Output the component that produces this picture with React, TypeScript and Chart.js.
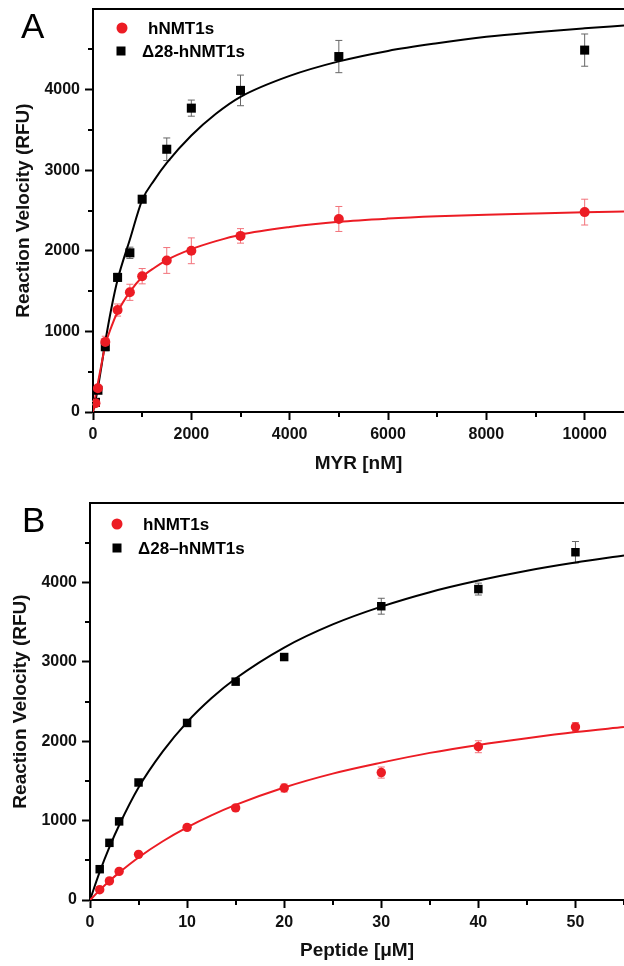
import React, { useEffect, useRef } from 'react';
import { Chart, registerables } from 'chart.js';

Chart.register(...registerables);

// ---------- Data ----------
const seriesLabelsA = ['hNMT1s', 'Δ28-hNMT1s'];
const seriesLabelsB = ['hNMT1s', 'Δ28–hNMT1s'];

// Panel A : MYR [nM]
const myrConc = [50, 100, 250, 500, 750, 1000, 1500, 2000, 3000, 5000, 10000];
const myrRed = [110, 295, 870, 1265, 1485, 1685, 1880, 2000, 2185, 2395, 2480];
const myrRedErr = [20, 40, 70, 75, 100, 95, 160, 160, 90, 155, 160];
const myrBlack = [120, 270, 810, 1670, 1975, 2640, 3260, 3770, 3990, 4410, 4490];
const myrBlackErr = [20, 30, 50, 50, 70, 40, 140, 100, 190, 200, 200];
const myrFitX = [0, 50, 100, 175, 250, 375, 500, 750, 1000, 1250, 1500, 2000, 2500, 3000, 4000, 5000, 6000, 7000, 8000, 9000, 10000, 10800];
const myrFitRed = [0, 200, 360, 600, 830, 1060, 1240, 1490, 1675, 1790, 1885, 2020, 2120, 2200, 2295, 2360, 2400, 2428, 2448, 2464, 2478, 2488];
const myrFitBlack = [0, 140, 300, 580, 870, 1290, 1640, 2140, 2630, 2880, 3090, 3430, 3700, 3910, 4170, 4350, 4480, 4575, 4655, 4712, 4760, 4795];
const myrTicks = [0, 1000, 2000, 3000, 4000, 5000, 6000, 7000, 8000, 9000, 10000];
const myrTickLabels = [0, 2000, 4000, 6000, 8000, 10000];

// Panel B : Peptide [µM]
const pepConc = [1, 2, 3, 5, 10, 15, 20, 30, 40, 50];
const pepRed = [130, 240, 360, 575, 915, 1160, 1410, 1605, 1930, 2180];
const pepRedErr = [0, 0, 0, 0, 30, 30, 50, 70, 75, 55];
const pepBlack = [388, 720, 990, 1480, 2230, 2750, 3060, 3700, 3916, 4380];
const pepBlackErr = [0, 0, 0, 0, 40, 30, 30, 100, 75, 135];
const pepFitX = [0, 1, 2, 3, 5, 7.5, 10, 12.5, 15, 20, 25, 30, 35, 40, 45, 50, 55];
const pepFitRed = [0, 124, 239, 345, 536, 740, 915, 1066, 1198, 1417, 1592, 1730, 1853, 1953, 2038, 2115, 2178];
const pepFitBlack = [0, 354, 666, 942, 1417, 1871, 2240, 2540, 2790, 3180, 3471, 3695, 3877, 4023, 4147, 4250, 4338];
const pepTicks = [0, 5, 10, 15, 20, 25, 30, 35, 40, 45, 50, 55];
const pepTickLabels = [0, 10, 20, 30, 40, 50];

const velocityTicks = [0, 500, 1000, 1500, 2000, 2500, 3000, 3500, 4000, 4500];
const velocityTickLabels = [0, 1000, 2000, 3000, 4000];

// ---------- Styles ----------
const RED = '#ec1c24';
const RED_ERR = '#f2727a';
const BLACK = '#000000';
const BLACK_ERR = '#666666';
const FONT = 'Liberation Sans, Arial, sans-serif';

const toXY = (xs: number[], ys: number[]) => xs.map((x, i) => ({ x, y: ys[i] }));

const panelPlugin = {
  id: 'panel',
  beforeDatasetsDraw(chart: any) {
    const { ctx } = chart;
    const ys = chart.scales.y;
    chart.data.datasets.forEach((ds: any, di: number) => {
      if (!ds.errors) return;
      const meta = chart.getDatasetMeta(di);
      ctx.save();
      ctx.strokeStyle = ds.errorColor;
      ctx.lineWidth = 1;
      meta.data.forEach((el: any, i: number) => {
        const e = ds.errors[i];
        if (!e) return;
        const v = ds.data[i].y;
        const y1 = ys.getPixelForValue(v + e);
        const y2 = ys.getPixelForValue(v - e);
        const x = el.x;
        ctx.beginPath();
        ctx.moveTo(x, y1); ctx.lineTo(x, y2);
        ctx.moveTo(x - 3.5, y1); ctx.lineTo(x + 3.5, y1);
        ctx.moveTo(x - 3.5, y2); ctx.lineTo(x + 3.5, y2);
        ctx.stroke();
      });
      ctx.restore();
    });
  },
  afterDraw(chart: any, _args: any, opts: any) {
    const { ctx, chartArea } = chart;
    const xs = chart.scales.x;
    const ys = chart.scales.y;
    ctx.save();
    // top frame
    ctx.strokeStyle = '#000';
    ctx.lineWidth = 2;
    ctx.beginPath();
    ctx.moveTo(chartArea.left - 1, chartArea.top);
    ctx.lineTo(chartArea.right, chartArea.top);
    ctx.stroke();
    // minor ticks
    ctx.beginPath();
    xs.ticks.forEach((t: any) => {
      if (opts.xMajor.includes(t.value)) return;
      const px = Math.round(xs.getPixelForValue(t.value));
      ctx.moveTo(px, chartArea.bottom);
      ctx.lineTo(px, chartArea.bottom + 5);
    });
    ys.ticks.forEach((t: any) => {
      if (opts.yMajor.includes(t.value)) return;
      const py = Math.round(ys.getPixelForValue(t.value));
      ctx.moveTo(chartArea.left, py);
      ctx.lineTo(chartArea.left - 5, py);
    });
    ctx.stroke();
    // panel letter
    ctx.fillStyle = '#000';
    ctx.font = `normal 35px ${FONT}`;
    ctx.textBaseline = 'alphabetic';
    ctx.textAlign = 'left';
    ctx.fillText(opts.letter, opts.letterX, opts.letterY);
    // legend
    ctx.font = `bold 17px ${FONT}`;
    ctx.textBaseline = 'middle';
    opts.legend.forEach((item: any) => {
      const ds = chart.data.datasets[item.dataset];
      ctx.fillStyle = ds.pointBackgroundColor;
      if (ds.pointStyle === 'rect') {
        ctx.fillRect(item.mx - 4.5, item.my - 4.5, 9, 9);
      } else {
        ctx.beginPath();
        ctx.arc(item.mx, item.my, 5.5, 0, Math.PI * 2);
        ctx.fill();
      }
      ctx.fillStyle = '#000';
      ctx.fillText(ds.label, item.tx, item.my + 1);
    });
    ctx.restore();
  },
};

type Spec = {
  height: number;
  top: number;
  yWidth: number;
  xHeight: number;
  yTitlePad: number;
  xTitlePad: number;
  xMax: number;
  xTicks: number[];
  xLabels: number[];
  xTitle: string;
  letter: string;
  letterX: number;
  letterY: number;
  legend: any[];
  labels: string[];
  conc: number[];
  red: number[];
  redErr: number[];
  black: number[];
  blackErr: number[];
  fitX: number[];
  fitRed: number[];
  fitBlack: number[];
  redRadius: number;
  blackRadius: number;
};

function makeConfig(s: Spec): any {
  const tickFont = { family: FONT, size: 16, weight: 'bold' };
  const titleFont = { family: FONT, size: 19, weight: 'bold' };
  return {
    type: 'line',
    data: {
      datasets: [
        {
          label: s.labels[0],
          data: toXY(s.conc, s.red),
          errors: s.redErr,
          errorColor: RED_ERR,
          showLine: false,
          pointStyle: 'circle',
          pointRadius: s.redRadius,
          pointBackgroundColor: RED,
          pointBorderColor: RED,
          pointBorderWidth: 0,
          order: 0,
        },
        {
          label: s.labels[1],
          data: toXY(s.conc, s.black),
          errors: s.blackErr,
          errorColor: BLACK_ERR,
          showLine: false,
          pointStyle: 'rect',
          pointRadius: s.blackRadius,
          pointBackgroundColor: BLACK,
          pointBorderColor: BLACK,
          pointBorderWidth: 0,
          order: 1,
        },
        {
          label: 'fit ' + s.labels[0],
          data: toXY(s.fitX, s.fitRed),
          borderColor: RED,
          borderWidth: 2,
          pointRadius: 0,
          cubicInterpolationMode: 'monotone',
          order: 2,
        },
        {
          label: 'fit ' + s.labels[1],
          data: toXY(s.fitX, s.fitBlack),
          borderColor: BLACK,
          borderWidth: 2,
          pointRadius: 0,
          cubicInterpolationMode: 'monotone',
          order: 3,
        },
      ],
    },
    options: {
      animation: false,
      responsive: false,
      maintainAspectRatio: false,
      events: [],
      layout: { autoPadding: false, padding: { top: s.top, left: 0, right: 0, bottom: 0 } },
      plugins: {
        legend: { display: false },
        tooltip: { enabled: false },
        panel: {
          letter: s.letter,
          letterX: s.letterX,
          letterY: s.letterY,
          legend: s.legend,
          xMajor: s.xLabels,
          yMajor: velocityTickLabels,
        },
      },
      scales: {
        x: {
          type: 'linear',
          min: 0,
          max: s.xMax,
          afterBuildTicks: (sc: any) => {
            sc.ticks = s.xTicks.map((v) => ({ value: v }));
          },
          afterFit: (sc: any) => {
            sc.height = s.xHeight;
            sc.paddingLeft = 0;
            sc.paddingRight = 0;
          },
          ticks: {
            autoSkip: false,
            maxRotation: 0,
            minRotation: 0,
            font: tickFont,
            color: '#111',
            padding: 5,
            callback: (v: number) => (s.xLabels.includes(v) ? String(v) : ''),
          },
          grid: {
            drawOnChartArea: false,
            drawTicks: true,
            tickLength: 8,
            tickWidth: 2,
            tickColor: (c: any) => (c.tick && s.xLabels.includes(c.tick.value) ? '#000' : 'rgba(0,0,0,0)'),
          },
          border: { display: true, color: '#000', width: 2 },
          title: {
            display: true,
            text: s.xTitle,
            font: titleFont,
            color: '#111',
            padding: { top: 0, bottom: s.xTitlePad },
          },
        },
        y: {
          type: 'linear',
          min: 0,
          max: 5000,
          afterBuildTicks: (sc: any) => {
            sc.ticks = velocityTicks.map((v) => ({ value: v }));
          },
          afterFit: (sc: any) => {
            sc.width = s.yWidth;
            sc.paddingTop = 0;
            sc.paddingBottom = 0;
          },
          ticks: {
            autoSkip: false,
            font: tickFont,
            color: '#111',
            padding: 5,
            callback: (v: number) => (velocityTickLabels.includes(v) ? String(v) : ''),
          },
          grid: {
            drawOnChartArea: false,
            drawTicks: true,
            tickLength: 8,
            tickWidth: 2,
            tickColor: (c: any) => (c.tick && velocityTickLabels.includes(c.tick.value) ? '#000' : 'rgba(0,0,0,0)'),
          },
          border: { display: true, color: '#000', width: 2 },
          title: {
            display: true,
            text: 'Reaction Velocity (RFU)',
            font: titleFont,
            color: '#111',
            padding: { top: s.yTitlePad, bottom: 0 },
          },
        },
      },
    },
    plugins: [panelPlugin],
  };
}

const specA: Spec = {
  height: 480,
  top: 9,
  yWidth: 93,
  xHeight: 68,
  yTitlePad: 12.5,
  xTitlePad: 4.5,
  xMax: 10800,
  xTicks: myrTicks,
  xLabels: myrTickLabels,
  xTitle: 'MYR [nM]',
  letter: 'A',
  letterX: 21,
  letterY: 38,
  legend: [
    { dataset: 0, mx: 122, my: 28, tx: 148 },
    { dataset: 1, mx: 121, my: 51, tx: 142 },
  ],
  labels: seriesLabelsA,
  conc: myrConc,
  red: myrRed,
  redErr: myrRedErr,
  black: myrBlack,
  blackErr: myrBlackErr,
  fitX: myrFitX,
  fitRed: myrFitRed,
  fitBlack: myrFitBlack,
  redRadius: 5,
  blackRadius: 6.4,
};

const specB: Spec = {
  height: 486,
  top: 23,
  yWidth: 90,
  xHeight: 66,
  yTitlePad: 9.5,
  xTitlePad: 3.5,
  xMax: 55,
  xTicks: pepTicks,
  xLabels: pepTickLabels,
  xTitle: 'Peptide [μM]',
  letter: 'B',
  letterX: 22,
  letterY: 52,
  legend: [
    { dataset: 0, mx: 117, my: 44, tx: 143 },
    { dataset: 1, mx: 117, my: 68, tx: 138 },
  ],
  labels: seriesLabelsB,
  conc: pepConc,
  red: pepRed,
  redErr: pepRedErr,
  black: pepBlack,
  blackErr: pepBlackErr,
  fitX: pepFitX,
  fitRed: pepFitRed,
  fitBlack: pepFitBlack,
  redRadius: 4.7,
  blackRadius: 6,
};

function Panel({ spec }: { spec: Spec }) {
  const ref = useRef<HTMLCanvasElement | null>(null);
  useEffect(() => {
    if (!ref.current) return;
    const chart = new Chart(ref.current, makeConfig(spec));
    return () => chart.destroy();
  }, [spec]);
  return (
    <canvas
      ref={ref}
      width={624}
      height={spec.height}
      style={{ display: 'block', width: 624, height: spec.height }}
    />
  );
}

export default function App() {
  return (
    <div style={{ position: 'absolute', left: 0, top: 0, width: 624, height: 966, background: '#fff' }}>
      <Panel spec={specA} />
      <Panel spec={specB} />
    </div>
  );
}
